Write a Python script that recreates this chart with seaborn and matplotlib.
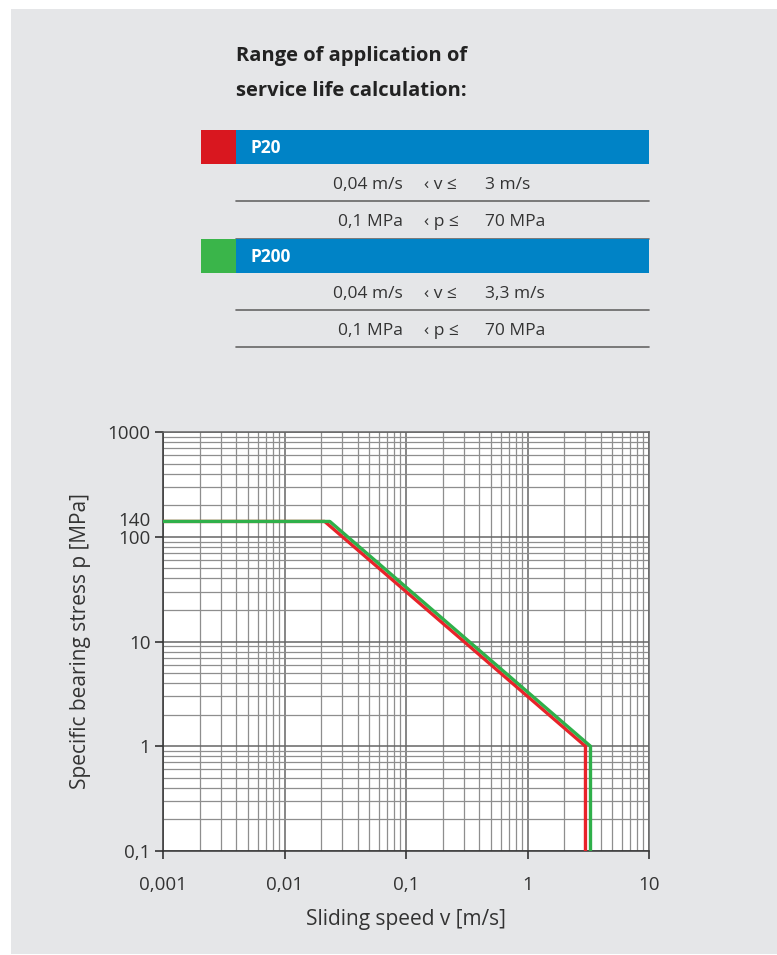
import numpy as np
import pandas as pd
import matplotlib
matplotlib.use('Agg')
import matplotlib.pyplot as plt
from matplotlib.patches import Rectangle
from matplotlib.lines import Line2D
from matplotlib.ticker import FixedLocator, LogLocator, NullFormatter
import matplotlib.transforms as mtrans
import seaborn as sns

# data
p20_v = [0.001, 0.0214, 3.0, 3.0]
p20_p = [140, 140, 1.0, 0.1]
p200_v = [0.001, 0.0236, 3.3, 3.3]
p200_p = [140, 140, 1.0, 0.1]

x_ticks = [0.001, 0.01, 0.1, 1, 10]
x_labels = ['0,001', '0,01', '0,1', '1', '10']
y_ticks = [0.1, 1, 10, 100, 140, 1000]
y_labels = ['0,1', '1', '10', '100', '140', '1000']

title_lines = ['Range of application of', 'service life calculation:']
materials = ['P20', 'P200']
material_colors = ['#d9171f', '#3ab54a']
ranges = [
    [('0,04 m/s', '‹ v ≤', '3 m/s'), ('0,1 MPa', '‹ p ≤', '70 MPa')],
    [('0,04 m/s', '‹ v ≤', '3,3 m/s'), ('0,1 MPa', '‹ p ≤', '70 MPa')],
]

sns.set_style('white')
plt.rcParams['font.family'] = ['Open Sans', 'DejaVu Sans']

W, H = 777, 955
fig = plt.figure(figsize=(W / 100, H / 100), dpi=100)
fig.patch.set_facecolor('white')


def fx(x):
    return x / W


def fy(y):
    return 1 - y / H


def frect(x0, y0, x1, y1, color, z=0):
    fig.add_artist(Rectangle((fx(x0), fy(y1)), fx(x1) - fx(x0), fy(y0) - fy(y1),
                             transform=fig.transFigure, facecolor=color,
                             edgecolor='none', zorder=z))


# grey panel
frect(11, 9, 777, 954, '#e5e6e8', z=-10)

# title
fig.text(fx(236), fy(56), title_lines[0], fontsize=14.5, fontweight='bold',
         color='#222222', va='center', ha='left')
fig.text(fx(236), fy(91), title_lines[1], fontsize=14.5, fontweight='bold',
         color='#222222', va='center', ha='left')

# table
blocks_top = [130, 239]
for i, (name, col) in enumerate(zip(materials, material_colors)):
    top = blocks_top[i]
    frect(201, top, 236, top + 34, col, z=1)
    frect(236, top, 649, top + 34, '#0083c6', z=1)
    fig.text(fx(250), fy(top + 18), name, fontsize=12.5, fontweight='bold',
             color='white', va='center', ha='left', zorder=2)
    for j, (lo, mid, hi) in enumerate(ranges[i]):
        yc = top + 55 + j * 37
        fig.text(fx(403), fy(yc), lo, fontsize=12.5, color='#333333',
                 va='center', ha='right')
        fig.text(fx(424), fy(yc), mid, fontsize=12.5, color='#333333',
                 va='center', ha='left')
        fig.text(fx(485), fy(yc), hi, fontsize=12.5, color='#333333',
                 va='center', ha='left')
        yl = top + 71.5 + j * 37
        fig.add_artist(Line2D([fx(236), fx(649)], [fy(yl), fy(yl)],
                              transform=fig.transFigure, color='#666666',
                              lw=1.2, zorder=1))

# chart
ax = fig.add_axes([fx(163), fy(851), fx(649) - fx(163), fy(432) - fy(851)])
ax.set_facecolor('white')

df = pd.concat([
    pd.DataFrame({'v': p20_v, 'p': p20_p, 'material': 'P20'}),
    pd.DataFrame({'v': p200_v, 'p': p200_p, 'material': 'P200'}),
], ignore_index=True)
sns.lineplot(data=df, x='v', y='p', hue='material', sort=False, estimator=None,
             palette=dict(zip(materials, ['#e8232a', '#2fb04a'])),
             linewidth=2.4, legend=False, ax=ax, zorder=5)

ax.set_xscale('log')
ax.set_yscale('log')
ax.set_xlim(0.001, 10)
ax.set_ylim(0.1, 1000)

ax.xaxis.set_major_locator(FixedLocator(x_ticks))
ax.set_xticklabels(x_labels)
ax.yaxis.set_major_locator(FixedLocator(y_ticks))
ax.set_yticklabels(y_labels)
ax.xaxis.set_minor_locator(LogLocator(base=10, subs=np.arange(2, 10)))
ax.yaxis.set_minor_locator(LogLocator(base=10, subs=np.arange(2, 10)))
ax.xaxis.set_minor_formatter(NullFormatter())
ax.yaxis.set_minor_formatter(NullFormatter())

ax.tick_params(axis='both', which='major', direction='out', length=6,
               width=1.2, color='#333333', labelsize=13.5, labelcolor='#333333')
ax.tick_params(axis='x', which='major', pad=12)
ax.tick_params(axis='y', which='major', pad=3)
ax.tick_params(axis='both', which='minor', length=0)
ax.tick_params(left=True, bottom=True)
# 140 label without tick mark, nudged up a little
t140 = ax.yaxis.get_major_ticks()[4]
t140.tick1line.set_visible(False)
t140.label1.set_transform(t140.label1.get_transform() +
                          mtrans.ScaledTranslation(0, 2 / 100, fig.dpi_scale_trans))

ax.grid(True, which='major', color='#666666', lw=1.1)
ax.grid(True, which='minor', color='#8e8e8e', lw=0.9)
ax.set_axisbelow(True)
# the 140 grid line is not drawn
t140.gridline.set_visible(False)

for s in ax.spines.values():
    s.set_color('#666666')
    s.set_linewidth(1.1)
ax.spines['left'].set_color('#333333')
ax.spines['bottom'].set_color('#333333')

ax.set_xlabel('Sliding speed v [m/s]', fontsize=15, color='#333333', labelpad=11)
ax.set_ylabel('Specific bearing stress p [MPa]', fontsize=15, color='#333333',
              labelpad=12)

fig.savefig('out.png', dpi=100)
